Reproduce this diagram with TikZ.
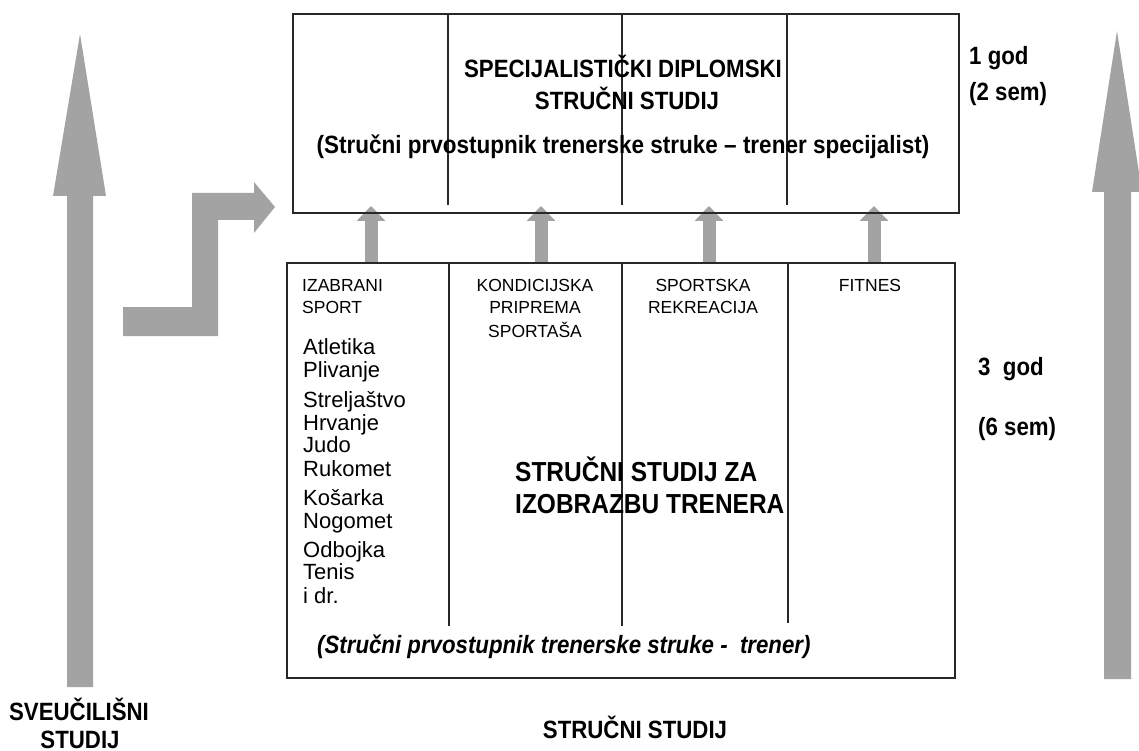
\documentclass[tikz,border=0pt]{standalone}
\usepackage{fontspec}
\setmainfont{Liberation Sans}
\newfontfamily\nar[FakeStretch=0.89]{Liberation Sans}
\newfontfamily\wid[FakeStretch=0.9]{Liberation Sans}
\usetikzlibrary{arrows.meta}
\pgfdeclarelayer{background}
\pgfsetlayers{background,main}
\definecolor{arrowgray}{RGB}{163,163,163}
\definecolor{boxline}{RGB}{40,40,40}
\tikzset{
  box/.style={draw=boxline, line width=2pt, inner sep=0pt, anchor=north west},
  divider/.style={draw=boxline, line width=1.5pt},
  uparrow/.style={draw=arrowgray, line width=13pt, -{Triangle[length=15pt,width=28pt]}},
  bigarrow/.style={fill=arrowgray, draw=none},
  ttl/.style={font=\nar\bfseries\fontsize{25}{29}\selectfont, inner sep=0pt},
  ttlwide/.style={font=\wid\bfseries\fontsize{25}{29}\selectfont, inner sep=0pt},
  ttlbig/.style={font=\nar\bfseries\fontsize{27.5}{31}\selectfont, inner sep=0pt, anchor=base west},
  ttlit/.style={font=\nar\bfseries\itshape\fontsize{25}{29}\selectfont, inner sep=0pt, anchor=base west},
  hdr/.style={font=\fontsize{17.5}{21}\selectfont, inner sep=0pt},
  sport/.style={font=\fontsize{22}{26}\selectfont, inner sep=0pt, anchor=base west},
}
\begin{document}
\begin{tikzpicture}[x=1pt,y=-1pt]
\useasboundingbox (0,0) rectangle (1139,751);

% boxes
\node[box, minimum width=666pt, minimum height=199pt] (top) at (292,13) {};
\node[box, minimum width=668pt, minimum height=415pt] (bottom) at (286,262) {};

% dividers
\draw[divider] (448,13) -- (448,205);
\draw[divider] (622,13) -- (622,205);
\draw[divider] (787,13) -- (787,205);
\draw[divider] (449,262) -- (449,626);
\draw[divider] (622,262) -- (622,626);
\draw[divider] (788,262) -- (788,623);

% small arrows between boxes
\coordinate (a1) at (371,206);
\coordinate (a2) at (541,206);
\coordinate (a3) at (709,206);
\coordinate (a4) at (874,206);
\begin{pgfonlayer}{background}
\draw[uparrow] (bottom.north -| a1) -- (a1);
\draw[uparrow] (bottom.north -| a2) -- (a2);
\draw[uparrow] (bottom.north -| a3) -- (a3);
\draw[uparrow] (bottom.north -| a4) -- (a4);
\end{pgfonlayer}

% big arrows
\fill[bigarrow] (80,34) -- (106,196) -- (93,196) -- (93,687) -- (67,687) -- (67,196) -- (53,196) -- cycle;
\fill[bigarrow] (1117,31) -- (1142,192) -- (1131,192) -- (1131,679) -- (1104,679) -- (1104,192) -- (1092,192) -- cycle;
\fill[bigarrow] (123,307) -- (192,307) -- (192,193) -- (254,193) -- (254,182) -- (275,207) -- (254,233) -- (254,220) -- (218,220) -- (218,336) -- (123,336) -- cycle;

% top box text
\node[ttl, anchor=base] (t1) at (623,78) {SPECIJALISTIČKI DIPLOMSKI};
\node[ttl, anchor=base] (t2) at (627,110) {STRUČNI STUDIJ};
\node[ttlwide, anchor=base] (t3) at (623,154) {(Stručni prvostupnik trenerske struke – trener specijalist)};

% right labels
\node[ttl, anchor=base west] (g1) at (969,65) {1 god};
\node[ttl, anchor=base west] (s1) at (969,101) {(2 sem)};
\node[ttl, anchor=base west] (g3) at (978,375) {3~~god};
\node[ttl, anchor=base west] (s6) at (978,435) {(6 sem)};

% column headers
\node[hdr, anchor=base west] (h1a) at (302,291) {IZABRANI};
\node[hdr, anchor=base west] (h1b) at (302,313) {SPORT};
\node[hdr, anchor=base] (h2a) at (535,291) {KONDICIJSKA};
\node[hdr, anchor=base] (h2b) at (535,313) {PRIPREMA};
\node[hdr, anchor=base] (h2c) at (535,337) {SPORTAŠA};
\node[hdr, anchor=base] (h3a) at (703,291) {SPORTSKA};
\node[hdr, anchor=base] (h3b) at (703,313) {REKREACIJA};
\node[hdr, anchor=base] (h4a) at (870,291) {FITNES};

% sports list
\node[sport] (sp1) at (303,354) {Atletika};
\node[sport] (sp2) at (303,377) {Plivanje};
\node[sport] (sp3) at (303,407) {Streljaštvo};
\node[sport] (sp4) at (303,430) {Hrvanje};
\node[sport] (sp5) at (303,452) {Judo};
\node[sport] (sp6) at (303,476) {Rukomet};
\node[sport] (sp7) at (303,505) {Košarka};
\node[sport] (sp8) at (303,528) {Nogomet};
\node[sport] (sp9) at (303,557) {Odbojka};
\node[sport] (sp10) at (303,579) {Tenis};
\node[sport] (sp11) at (303,603) {i dr.};

% bottom box title
\node[ttlbig] (b1) at (515,481) {STRUČNI STUDIJ ZA};
\node[ttlbig] (b2) at (515,513) {IZOBRAZBU TRENERA};
\node[ttlit] (b3) at (317,653) {(Stručni prvostupnik trenerske struke~-~~trener)};

% bottom labels
\node[ttl, anchor=base] (l1) at (79,720) {SVEUČILIŠNI};
\node[ttl, anchor=base] (l2) at (80,748) {STUDIJ};
\node[ttl, anchor=base] (l3) at (635,738) {STRUČNI STUDIJ};
\end{tikzpicture}
\end{document}
